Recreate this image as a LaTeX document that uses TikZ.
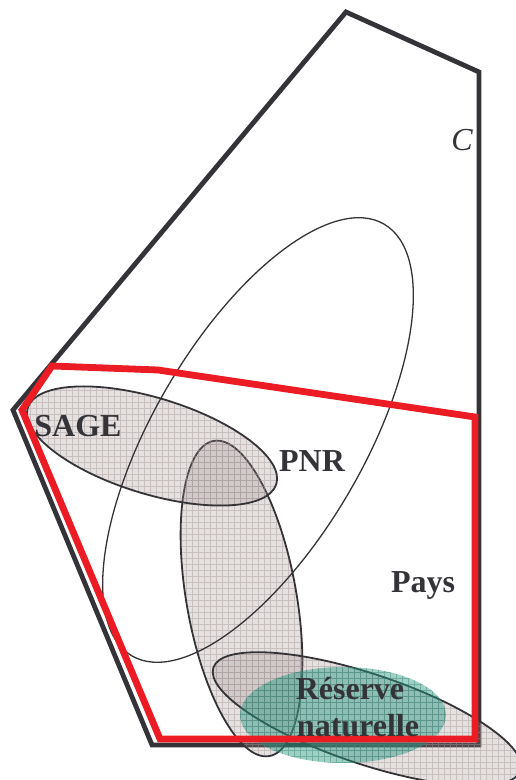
\documentclass[tikz,border=0pt]{standalone}
\usepackage{fontspec}
\setmainfont{Liberation Serif}
\definecolor{ink}{RGB}{52,52,56}
\definecolor{redline}{RGB}{236,28,36}
\definecolor{greyfill}{RGB}{150,135,135}
\definecolor{gridc}{RGB}{165,150,150}
\definecolor{teal}{RGB}{40,150,125}
\definecolor{tealgrid}{RGB}{30,110,95}
\tikzset{
  frame/.style={draw=ink, line width=4.8pt, line join=miter},
  redframe/.style={draw=redline, line width=6.8pt, line join=miter},
  zone/.style={draw=ink, line width=1.8pt},
  thinzone/.style={draw=ink, line width=1.3pt},
  greyzonefill/.style={fill=greyfill, fill opacity=0.25},
  gridline/.style={draw=gridc, line width=0.7pt, draw opacity=0.45},
  tealgridline/.style={draw=tealgrid, line width=0.7pt, draw opacity=0.35},
  lbl/.style={text=ink, font=\fontsize{32}{36}\selectfont\bfseries, inner sep=0pt, anchor=base},
}
\newcommand\myzone[5]{% cx cy a b rot
  \fill[greyzonefill, rotate around={#5:(#1,#2)}] (#1,#2) ellipse [x radius=#3, y radius=#4];
  \begin{scope}
    \clip[rotate around={#5:(#1,#2)}] (#1,#2) ellipse [x radius=#3, y radius=#4];
    \draw[gridline, step=6pt] (0,0) grid (516,780);
  \end{scope}
  \draw[zone, rotate around={#5:(#1,#2)}] (#1,#2) ellipse [x radius=#3, y radius=#4];}
\begin{document}
\begin{tikzpicture}[x=1pt,y=1pt]
\useasboundingbox (0,0) rectangle (516,780);
\clip (0,0) rectangle (516,780);
% black outline C
\draw[frame] (13,370) -- (346,768) -- (479,708) -- (479,35) -- (152,35) -- cycle;
% grey zones (tall, SAGE, bottom)
\myzone{241.5}{181.5}{160}{55}{-80}
\myzone{152}{334}{130}{48}{-17}
\myzone{367}{61}{162}{45}{-18.5}
% green reserve
\fill[teal, fill opacity=0.45] (343,65) ellipse [x radius=103, y radius=48];
\begin{scope}
  \clip (343,65) ellipse [x radius=103, y radius=48];
  \draw[tealgridline, step=6pt] (0,0) grid (516,780);
\end{scope}
% PNR outline
\draw[thinzone, rotate around={59.7:(258,340)}] (258,340) ellipse [x radius=250, y radius=105];
% red outline
\draw[redframe] (52,414) -- (158,410) -- (475,363) -- (475,41) -- (160,41) -- (22,370) -- cycle;
% labels
\node[lbl] (sage) at (78,343) {SAGE};
\node[lbl] (pnr) at (312,308) {PNR};
\node[lbl] (pays) at (423,187) {Pays};
\node[lbl] (reserve) at (350,80) {Réserve};
\node[lbl] (nat) at (358,43) {naturelle};
\node[text=ink, font=\fontsize{32}{36}\selectfont\itshape, inner sep=0pt, anchor=base] (c) at (462,629) {C};
\end{tikzpicture}
\end{document}
